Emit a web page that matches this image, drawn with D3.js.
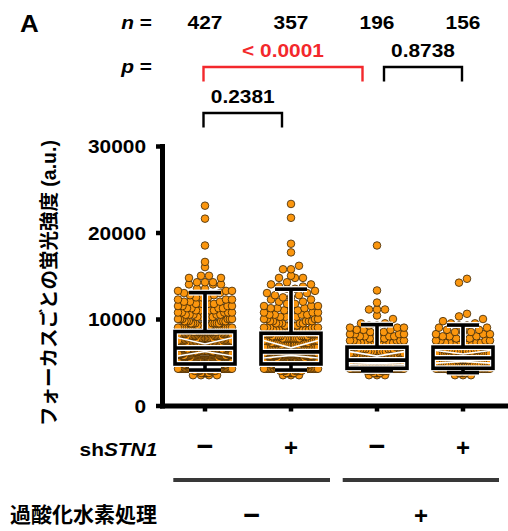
<!DOCTYPE html>
<html>
<head>
<meta charset="utf-8">
<script src="https://cdn.jsdelivr.net/npm/d3@7"></script>
<style>
  body { margin: 0; background: #fff; }
  text { font-family: "Liberation Sans", "Noto Sans CJK JP", sans-serif; font-weight: bold; }
</style>
</head>
<body>
<svg id="chart" width="508" height="531"></svg>
<script>
// ---- data ----
const groups = ["ctrl", "shSTN1", "H2O2", "H2O2+shSTN1"];
const nCounts = [427, 357, 196, 156];
const shSTN1Signs = ["−", "+", "−", "+"];
const h2o2Signs = ["−", "+"];
const yTicks = [0, 10000, 20000, 30000];

// box statistics per group (a.u.)
const whiskerLo = [4100, 4100, 4000, 3800];
const q1 = [4800, 4800, 4300, 4300];
const median = [6650, 6200, 5250, 5500];
const q3 = [8550, 8350, 6750, 6750];
const whiskerHi = [13050, 13450, 9350, 9300];

// focus intensities as [value, number of foci]
const foci1 = [[3500,4],[3750,7],[4000,10],[4250,26],[4500,30],[4750,30],
  [5000,18],[5250,17],[5500,16],[5750,15],[6000,14],[6250,14],[6500,13],
  [6750,14],[7000,14],[7250,14],[7500,13],[7750,13],[8000,13],[8250,13],[8500,12],
  [8750,8],[9000,8],[9250,7],[9500,7],[9750,6],[10000,6],[10250,5],[10500,5],[10750,5],[11000,5],
  [11250,4],[11500,4],[11750,4],[12000,3],[12250,3],[12500,3],[12750,2],[13000,2],
  [13250,3],[13500,2],[14000,3],[14250,3],[14750,2],[15000,2],[16000,1],[16600,1],[18500,1],[21600,1],[23100,1]];
const foci2 = [[3500,3],[3750,6],[4000,9],[4250,22],[4500,24],[4750,25],
  [5000,19],[5250,18],[5500,18],[5750,17],[6000,17],
  [6250,12],[6500,11],[6750,11],[7000,10],[7250,10],[7500,9],[7750,9],[8000,9],[8250,9],
  [8500,7],[8750,6],[9000,6],[9250,5],[9500,5],[9750,5],[10000,4],[10250,4],[10500,4],[10750,3],
  [11000,3],[11250,3],[11500,3],[11750,2],[12000,2],[12250,2],[12500,2],[12750,2],[13000,2],[13250,1],
  [13500,2],[13750,2],[14000,2],[14250,1],[14750,3],[15000,1],[15750,2],[16150,1],[17700,1],[18700,1],[21700,1],[23300,1]];
const foci3 = [[3500,3],[3750,6],[4000,12],[4250,28],
  [4500,14],[4750,13],[5000,11],[5250,11],
  [5500,10],[5750,9],[6000,8],[6250,8],[6500,7],[6750,7],
  [7000,6],[7250,5],[7500,5],[7750,4],[8000,4],[8250,4],[8500,3],[8750,3],[9000,3],[9250,2],
  [9500,2],[10000,1],[10400,1],[11100,3],[11900,1],[13300,1],[18500,1]];
const foci4 = [[3500,3],[3750,5],[4000,12],[4250,19],
  [4500,9],[4750,8],[5000,8],[5250,7],[5500,7],
  [5750,9],[6000,8],[6250,8],[6500,7],[6750,7],
  [7000,5],[7250,4],[7500,4],[7750,3],[8000,3],[8250,3],[8500,3],[8750,2],[9000,2],[9250,2],
  [9500,2],[9750,1],[10000,1],[10300,1],[10600,1],[14200,1],[14650,1]];
const fociByGroup = [foci1, foci2, foci3, foci4];

// significance brackets
const brackets = [
  { from: 0, to: 2, label: "< 0.0001", red: true,  level: 0 },
  { from: 2, to: 3, label: "0.8738",   red: false, level: 0 },
  { from: 0, to: 1, label: "0.2381",   red: false, level: 1 }
];

// ---- layout ----
const svg = d3.select("#chart");
const WIDE = 1.13;           // Latin label width factor
const FS = 18.5;
const RED = "#f3282c";
const ORANGE = "#fb960e";

const x = d3.scaleBand().domain(groups).range([162, 506]);
const cx = i => x(groups[i]) + x.bandwidth() / 2;
const y = d3.scaleLinear().domain([0, 30000]).range([405.5, 146]);

function wide(sel, tx, ty) {
  return sel.attr("transform", `translate(${tx},${ty}) scale(${WIDE},1)`);
}

// ---- dots (swarm rows) ----
const rowH = 7, dotGap = 8, maxSpread = 54, dotR = 3.8;
function swarm(values, centerX) {
  const sorted = values.slice().sort((a, b) => a - b);
  const rows = d3.groups(sorted, v => Math.round(y(v) / rowH));
  const pts = [];
  for (const [, vals] of rows) {
    const k = vals.length;
    const sp = k > 1 ? Math.min(dotGap, maxSpread / (k - 1)) : 0;
    const slots = d3.range(k).map(j => (j - (k - 1) / 2) * sp)
      .sort((a, b) => Math.abs(a) - Math.abs(b) || a - b);
    vals.forEach((v, i) => pts.push({ v, px: centerX + slots[i], py: y(v) }));
  }
  return pts;
}

const dotLayer = svg.append("g");
fociByGroup.forEach((dist, gi) => {
  const values = dist.flatMap(([v, c]) => Array(c).fill(v));
  dotLayer.append("g").selectAll("circle")
    .data(swarm(values, cx(gi)))
    .join("circle")
    .attr("cx", d => d.px).attr("cy", d => d.py).attr("r", dotR)
    .attr("fill", ORANGE).attr("stroke", "#3a2608").attr("stroke-width", 0.8);
});

// ---- box plots ----
const boxHalf = 30, capHalf = 16;
const boxLayer = svg.append("g");
groups.forEach((g, i) => {
  const c = cx(i);
  const yLo = y(whiskerLo[i]), yQ1 = y(q1[i]), yMed = y(median[i]), yQ3 = y(q3[i]), yHi = y(whiskerHi[i]);
  const segs = [
    [c, yHi, c, yQ3], [c, yQ1, c, yLo],
    [c - capHalf, yHi, c + capHalf, yHi], [c - capHalf, yLo, c + capHalf, yLo],
    [c - boxHalf, yMed, c + boxHalf, yMed]
  ];
  const gb = boxLayer.append("g");
  // white halo underneath, black line on top
  [["#fff", 6], ["#000", 3.6]].forEach(([col, w]) => {
    gb.append("rect")
      .attr("x", c - boxHalf).attr("y", yQ3)
      .attr("width", 2 * boxHalf).attr("height", yQ1 - yQ3)
      .attr("fill", "none").attr("stroke", col).attr("stroke-width", w);
    segs.forEach(s => gb.append("line")
      .attr("x1", s[0]).attr("y1", s[1]).attr("x2", s[2]).attr("y2", s[3])
      .attr("stroke", col).attr("stroke-width", w));
  });
  // notch guides
  const upSide = (yQ3 + yMed) / 2 - 2, loSide = (yMed + yQ1) / 2;
  const notch = d3.line();
  gb.append("path")
    .attr("d", notch([[c - boxHalf + 3, upSide], [c, yMed - 4], [c + boxHalf - 3, upSide]]))
    .attr("fill", "none").attr("stroke", "#fff").attr("stroke-width", 1.6);
  gb.append("path")
    .attr("d", notch([[c - boxHalf + 3, loSide], [c, yMed + 3.5], [c + boxHalf - 3, loSide]]))
    .attr("fill", "none").attr("stroke", "#fff").attr("stroke-width", 1.6);
});

// ---- axes ----
const yAxis = svg.append("g").attr("transform", "translate(162,0)")
  .call(d3.axisLeft(y).tickValues(yTicks).tickSize(6).tickSizeOuter(0).tickFormat(d3.format("d")));
yAxis.select(".domain").attr("stroke", "#000").attr("stroke-width", 5).attr("stroke-linecap", "square");
yAxis.selectAll(".tick line").attr("stroke", "#000").attr("stroke-width", 4.5);
yAxis.selectAll(".tick text")
  .attr("x", -16 / WIDE).attr("dy", "0.36em")
  .attr("transform", `scale(${WIDE},1)`)
  .attr("fill", "#000").style("font-size", FS + "px")
  .style("font-family", '"Liberation Sans", sans-serif').style("font-weight", "bold");

const xAxis = svg.append("g").attr("transform", "translate(0,405.5)")
  .call(d3.axisBottom(x).tickSize(6).tickSizeOuter(0).tickFormat(""));
xAxis.select(".domain").attr("stroke", "#000").attr("stroke-width", 5).attr("stroke-linecap", "square");
xAxis.selectAll(".tick line").attr("stroke", "#000").attr("stroke-width", 4.5);

// y-axis title
svg.append("text")
  .attr("transform", "translate(49,283) rotate(-90)")
  .attr("text-anchor", "middle").attr("dominant-baseline", "central")
  .style("font-size", "19.5px")
  .text("フォーカスごとの蛍光強度 (a.u.)");

// ---- header: panel letter, n, p ----
wide(svg.append("text"), 20, 31.7).style("font-size", "23px").text("A");

const nLabel = wide(svg.append("text"), 152, 29.3).attr("text-anchor", "end").style("font-size", FS + "px");
nLabel.append("tspan").style("font-style", "italic").text("n");
nLabel.append("tspan").text(" =");
nCounts.forEach((n, i) => {
  wide(svg.append("text"), cx(i), 29.3).attr("text-anchor", "middle").style("font-size", FS + "px").text(n);
});

const pLabel = wide(svg.append("text"), 152, 73.3).attr("text-anchor", "end").style("font-size", FS + "px");
pLabel.append("tspan").style("font-style", "italic").text("p");
pLabel.append("tspan").text(" =");

const bracketTop = [67, 113], bracketDrop = 14.5, labelBase = [57.3, 102.7];
const bracketInset = { "0-2": [-1.5, -14.5], "2-3": [7, -1], "0-1": [-1.5, -9] };
brackets.forEach(b => {
  const ins = bracketInset[`${b.from}-${b.to}`];
  const x1 = cx(b.from) + ins[0], x2 = cx(b.to) + ins[1];
  const yt = bracketTop[b.level];
  const col = b.red ? RED : "#000";
  svg.append("path")
    .attr("d", `M${x1},${yt + bracketDrop}V${yt}H${x2}V${yt + bracketDrop}`)
    .attr("fill", "none").attr("stroke", col).attr("stroke-width", 2.4);
  wide(svg.append("text"), (x1 + x2) / 2, labelBase[b.level])
    .attr("text-anchor", "middle").attr("fill", col).style("font-size", FS + "px").text(b.label);
});

// ---- condition rows under the axis ----
function sign(s, tx, cy) {
  if (s === "+") {
    svg.append("text").attr("x", tx).attr("y", cy + 8.2).attr("text-anchor", "middle")
      .style("font-size", "24px").text(s);
  } else {
    svg.append("text").attr("x", tx).attr("y", cy + 8.6).attr("text-anchor", "middle")
      .style("font-size", "29px").text(s);
  }
}

const shLabel = wide(svg.append("text"), 157.3, 456).attr("text-anchor", "end").style("font-size", FS + "px");
shLabel.append("tspan").text("sh");
shLabel.append("tspan").style("font-style", "italic").text("STN1");
shSTN1Signs.forEach((s, i) => sign(s, cx(i), 447.7));

[[173.3, 330], [342.7, 499]].forEach(([a, b]) => {
  svg.append("line").attr("x1", a).attr("x2", b).attr("y1", 480).attr("y2", 480)
    .attr("stroke", "#383838").attr("stroke-width", 4);
});

svg.append("text").attr("x", 157).attr("y", 522).attr("text-anchor", "end")
  .style("font-size", "21px").text("過酸化水素処理");
h2o2Signs.forEach((s, i) => sign(s, [251.7, 421][i], 516));
</script>
</body>
</html>
